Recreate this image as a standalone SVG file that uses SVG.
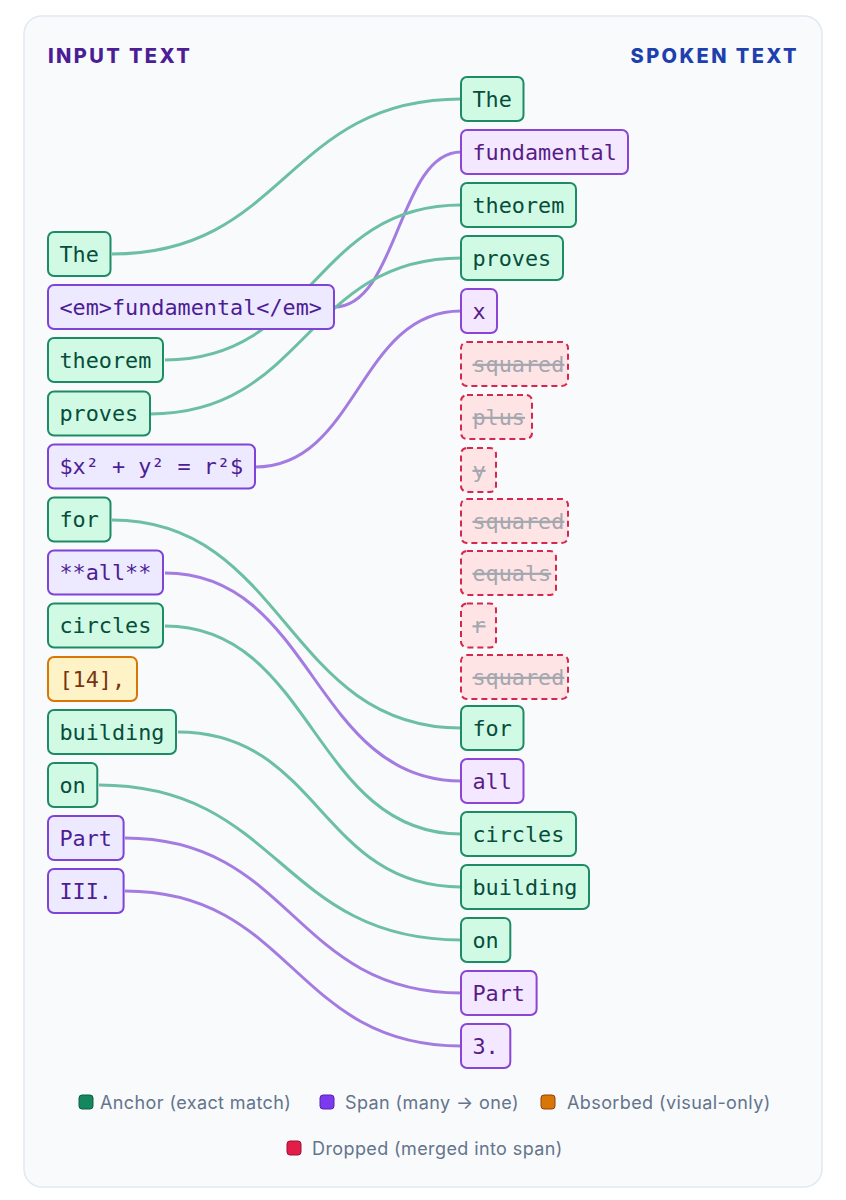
<svg xmlns="http://www.w3.org/2000/svg" width="846" height="1200" viewBox="0 0 846 1200">
<style>
.card{fill:#f8fafc;stroke:#e2e8f0;stroke-width:1.5}
.hdr{font-family:Inter,"Liberation Sans",sans-serif;font-weight:800;font-size:20px;letter-spacing:2.4px}
.tok{font-family:"DejaVu Sans Mono",monospace;font-size:21.8px}
.anc rect{fill:#d1fae5;stroke:#1f8a66;stroke-width:2}
.anc text{fill:#064e3b}
.spl rect{fill:#ede9fe;stroke:#7e43d9;stroke-width:2}
.spl text{fill:#4c1d95}
.spr rect{fill:#f3e8ff;stroke:#8b45d6;stroke-width:2}
.spr text{fill:#581c87}
.abs rect{fill:#fef3c7;stroke:#d97706;stroke-width:2}
.abs text{fill:#78350f}
.drp rect{fill:#ffe4e6;stroke:#d6284f;stroke-width:2;stroke-dasharray:6 4}
.drp text{fill:#a3a7ae;text-decoration:line-through}
.cg{fill:none;stroke:#6cbfa3;stroke-width:3}
.cp{fill:none;stroke:#a47be0;stroke-width:3}
.lg{font-family:Inter,"Liberation Sans",sans-serif;font-size:18px;letter-spacing:0.4px;fill:#64748b}
</style>
<rect width="846" height="1200" fill="#ffffff"/>
<rect class="card" x="24" y="16" width="798" height="1171" rx="18"/>
<text class="hdr" x="48" y="63" fill="#4c1d95">INPUT TEXT</text>
<text class="hdr" x="799" y="63" fill="#1e40af" text-anchor="end">SPOKEN TEXT</text>

<g id="connectors">
<path class="cg" d="M112 254 C286 254 286 99 461 99"/>
<path class="cp" d="M334 307 C398 307 398 152 461 152"/>
<path class="cg" d="M165 360 C313 360 313 205 461 205"/>
<path class="cg" d="M150 414 C306 414 306 258 461 258"/>
<path class="cp" d="M255 467 C358 467 358 311 461 311"/>
<path class="cg" d="M112 520 C286 520 286 728 461 728"/>
<path class="cp" d="M165 573 C313 573 313 781 461 781"/>
<path class="cg" d="M165 626 C313 626 313 834 461 834"/>
<path class="cg" d="M178 732 C320 732 320 887 461 887"/>
<path class="cg" d="M99 785 C280 785 280 940 461 940"/>
<path class="cp" d="M125 838 C293 838 293 993 461 993"/>
<path class="cp" d="M125 891 C293 891 293 1046 461 1046"/>
</g>

<g class="tok">
<g id="in-the" class="anc"><rect x="48" y="232" width="62.5" height="44" rx="6"/><text x="59.5" y="261.5">The</text></g>
<g id="in-em" class="spl"><rect x="48" y="285" width="286" height="44" rx="6"/><text x="59.5" y="314.5">&lt;em&gt;fundamental&lt;/em&gt;</text></g>
<g id="in-theorem" class="anc"><rect x="48" y="338" width="115" height="44" rx="6"/><text x="59.5" y="367.5">theorem</text></g>
<g id="in-proves" class="anc"><rect x="48" y="391.5" width="102" height="44" rx="6"/><text x="59.5" y="421">proves</text></g>
<g id="in-math" class="spl"><rect x="48" y="444.5" width="207" height="44" rx="6"/><text x="59.5" y="474">$x² + y² = r²$</text></g>
<g id="in-for" class="anc"><rect x="48" y="497.5" width="62.5" height="44" rx="6"/><text x="59.5" y="527">for</text></g>
<g id="in-all" class="spl"><rect x="48" y="550.5" width="115" height="44" rx="6"/><text x="59.5" y="580">**all**</text></g>
<g id="in-circles" class="anc"><rect x="48" y="603.5" width="115" height="44" rx="6"/><text x="59.5" y="633">circles</text></g>
<g id="in-cite" class="abs"><rect x="48" y="657" width="89" height="44" rx="6"/><text x="59.5" y="686.5">[14],</text></g>
<g id="in-building" class="anc"><rect x="48" y="710" width="128" height="44" rx="6"/><text x="59.5" y="739.5">building</text></g>
<g id="in-on" class="anc"><rect x="48" y="763" width="49.3" height="44" rx="6"/><text x="59.5" y="792.5">on</text></g>
<g id="in-part" class="spl"><rect x="48" y="816" width="75.6" height="44" rx="6"/><text x="59.5" y="845.5">Part</text></g>
<g id="in-iii" class="spl"><rect x="48" y="869" width="75.6" height="44" rx="6"/><text x="59.5" y="898.5">III.</text></g>

<g id="out-the" class="anc"><rect x="461" y="77" width="62.5" height="44" rx="6"/><text x="472.5" y="106.5">The</text></g>
<g id="out-fundamental" class="spr"><rect x="461" y="130" width="167" height="44" rx="6"/><text x="472.5" y="159.5">fundamental</text></g>
<g id="out-theorem" class="anc"><rect x="461" y="183" width="115" height="44" rx="6"/><text x="472.5" y="212.5">theorem</text></g>
<g id="out-proves" class="anc"><rect x="461" y="236" width="102" height="44" rx="6"/><text x="472.5" y="265.5">proves</text></g>
<g id="out-x" class="spr"><rect x="461" y="289" width="36" height="44" rx="6"/><text x="472.5" y="318.5">x</text></g>
<g id="out-squared1" class="drp"><rect x="461" y="342" width="107" height="44" rx="6"/><text x="472.5" y="371.5">squared</text></g>
<g id="out-plus" class="drp"><rect x="461" y="395" width="71" height="44" rx="6"/><text x="472.5" y="424.5">plus</text></g>
<g id="out-y" class="drp"><rect x="461" y="448" width="35" height="44" rx="6"/><text x="472.5" y="477.5">y</text></g>
<g id="out-squared2" class="drp"><rect x="461" y="499" width="107" height="44" rx="6"/><text x="472.5" y="528.5">squared</text></g>
<g id="out-equals" class="drp"><rect x="461" y="551" width="95" height="44" rx="6"/><text x="472.5" y="580.5">equals</text></g>
<g id="out-r" class="drp"><rect x="461" y="603.5" width="35" height="44" rx="6"/><text x="472.5" y="633">r</text></g>
<g id="out-squared3" class="drp"><rect x="461" y="655" width="107" height="44" rx="6"/><text x="472.5" y="684.5">squared</text></g>
<g id="out-for" class="anc"><rect x="461" y="706" width="62.5" height="44" rx="6"/><text x="472.5" y="735.5">for</text></g>
<g id="out-all" class="spr"><rect x="461" y="759" width="62.5" height="44" rx="6"/><text x="472.5" y="788.5">all</text></g>
<g id="out-circles" class="anc"><rect x="461" y="812" width="115" height="44" rx="6"/><text x="472.5" y="841.5">circles</text></g>
<g id="out-building" class="anc"><rect x="461" y="865" width="128" height="44" rx="6"/><text x="472.5" y="894.5">building</text></g>
<g id="out-on" class="anc"><rect x="461" y="918" width="49.3" height="44" rx="6"/><text x="472.5" y="947.5">on</text></g>
<g id="out-part" class="spr"><rect x="461" y="971" width="75.6" height="44" rx="6"/><text x="472.5" y="1000.5">Part</text></g>
<g id="out-3" class="spr"><rect x="461" y="1024" width="49.3" height="44" rx="6"/><text x="472.5" y="1053.5">3.</text></g>
</g>

<g id="legend">
<rect x="79" y="1095" width="14" height="14" rx="3" fill="#14875f" stroke="#0b5e42" stroke-width="1"/>
<text class="lg" x="100" y="1108.5">Anchor (exact match)</text>
<rect x="320" y="1095" width="14" height="14" rx="3" fill="#7c3aed" stroke="#5b21b6" stroke-width="1"/>
<text class="lg" x="345" y="1108.5">Span (many → one)</text>
<rect x="541" y="1095" width="14" height="14" rx="3" fill="#d97706" stroke="#92400e" stroke-width="1"/>
<text class="lg" x="567" y="1108.5">Absorbed (visual-only)</text>
<rect x="287" y="1141" width="14" height="14" rx="3" fill="#e11d48" stroke="#9f1239" stroke-width="1"/>
<text class="lg" x="312" y="1154.5">Dropped (merged into span)</text>
</g>
</svg>
